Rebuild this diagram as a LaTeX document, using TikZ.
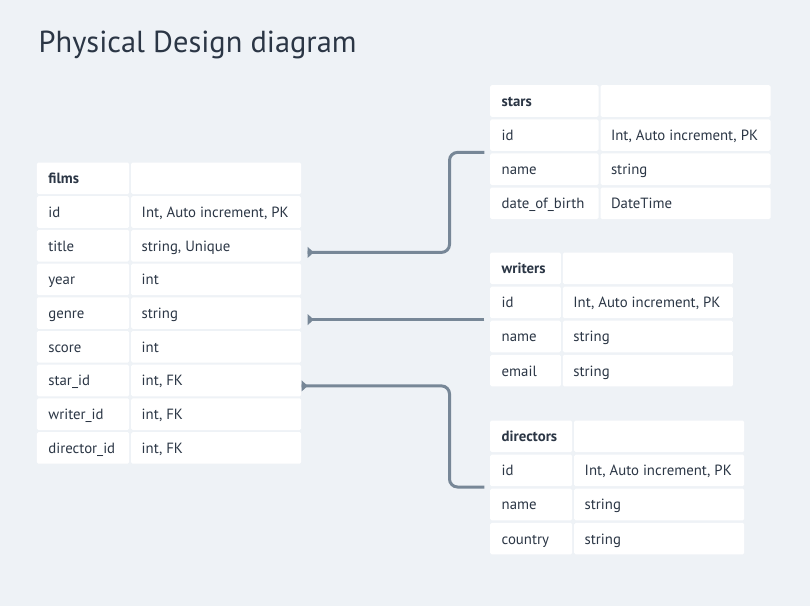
\documentclass[tikz,border=0pt]{standalone}
\usepackage{fontspec}
\setmainfont{PT Sans}
\usetikzlibrary{calc}
\definecolor{bg}{HTML}{EEF2F6}
\definecolor{txt}{HTML}{2B3645}
\definecolor{lnk}{HTML}{778797}
\newcommand\dbtable[6]{%
  \foreach \ca/\cb [count=\i] in {#6} {
    \pgfmathsetmacro\yy{#3+(\i-1)*#5}
    \node[cell, minimum width=#4pt, inner xsep=11.5pt] (#1-\i a) at (#2,\yy) {\makebox[\dimexpr#4pt-23pt\relax][l]{\ca}};
    \node[cell, minimum width=170pt, inner xsep=10.5pt] (#1-\i b) at (#2+#4+2,\yy) {\makebox[149pt][l]{\cb}};
  }%
}
\tikzset{
  cell/.style={fill=white, rounded corners=1.5pt, anchor=north west, inner ysep=0pt,
    minimum height=31.6pt, text height=14pt, text depth=3.2pt, text=txt,
    font=\fontsize{14.8}{16}\selectfont},
  link/.style={draw=lnk, line width=3pt, rounded corners=8pt},
  tip/.style={fill=lnk},
}
\begin{document}
\begin{tikzpicture}[x=1pt,y=-1pt]
\fill[bg] (0,0) rectangle (810,606);
\useasboundingbox (0,0) rectangle (810,606);
\node[anchor=base west, inner sep=0pt, text=txt, font=\fontsize{30.4}{34}\selectfont] (title) at (38.5,52.7) {Physical Design diagram};

\dbtable{films}{36.7}{162.3}{92.3}{33.7}{\textbf{films}/{}, id/{Int, Auto increment, PK}, title/{string, Unique}, year/int, genre/string, score/int, star\_id/{int, FK}, writer\_id/{int, FK}, director\_id/{int, FK}}
\dbtable{stars}{490}{85}{108.3}{34.1}{\textbf{stars}/{}, id/{Int, Auto increment, PK}, name/string, date\_of\_birth/DateTime}
\dbtable{writers}{490}{252.3}{70.7}{34.1}{\textbf{writers}/{}, id/{Int, Auto increment, PK}, name/string, email/string}
\dbtable{directors}{490}{420.3}{82}{34.1}{\textbf{directors}/{}, id/{Int, Auto increment, PK}, name/string, country/string}

% connector end points
\coordinate (s1) at ($(stars-2a.south west)+(-5.7,1.3)$);
\coordinate (w1) at ($(writers-2a.south west)+(-5.7,1.2)$);
\coordinate (d1) at ($(directors-2a.south west)+(-5.7,0.6)$);
\coordinate (fx1) at ($(films-1b.north east)+(6.3,0)$);
\coordinate (fx3) at ($(films-1b.north east)+(0.3,0)$);
\coordinate (f1) at ($(films-3b.north east)+(6.3,22.7)$);
\coordinate (f2) at (fx1 |- w1);
\coordinate (f3) at ($(films-7b.north east)+(0.3,21.4)$);
\coordinate (vx) at (449.5,0);

\draw[link] (s1) -| (vx |- f1) -- (f1);
\draw[link] (w1) -- (f2);
\draw[link] (f3) -| (vx |- d1) -- (d1);

\foreach \p in {f1,f2,f3}
  \fill[tip] (\p) ++(0,-5.5) -- ++(6,5.5) -- ++(-6,5.5) -- cycle;
\end{tikzpicture}
\end{document}
